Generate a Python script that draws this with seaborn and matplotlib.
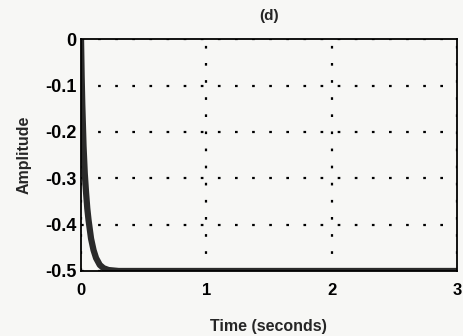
import matplotlib
matplotlib.use("Agg")
import matplotlib.pyplot as plt
import seaborn as sns
import pandas as pd

time_s = [0.0, 0.005, 0.01, 0.02, 0.03, 0.04, 0.05, 0.06, 0.08, 0.10, 0.12, 0.15, 0.18, 0.22, 0.3, 0.5, 1.0, 2.0, 3.0]
amplitude = [0.0, -0.08, -0.14, -0.23, -0.29, -0.33, -0.365, -0.39, -0.43, -0.455, -0.472, -0.487, -0.494, -0.498, -0.5, -0.5, -0.5, -0.5, -0.5]
x_ticks = [0, 1, 2, 3]
y_ticks = [0, -0.1, -0.2, -0.3, -0.4, -0.5]
y_tick_labels = ["0", "-0.1", "-0.2", "-0.3", "-0.4", "-0.5"]

sns.set_style("white")
plt.rcParams['font.family'] = ['Liberation Sans', 'DejaVu Sans']

df = pd.DataFrame({"Time": time_s, "Amplitude": amplitude})

fig = plt.figure(figsize=(4.64, 3.36), dpi=100, facecolor="#f7f7f5")
ax = fig.add_axes([0.1746, 0.1935, 0.810, 0.69])
ax.set_facecolor("#f7f7f5")
sns.lineplot(data=df, x="Time", y="Amplitude", ax=ax, color="#2a2a2a", linewidth=4.5)

ax.set_xlim(0, 3)
ax.set_ylim(-0.5, 0)
ax.set_xticks(x_ticks)
ax.set_xticklabels([str(t) for t in x_ticks])
ax.set_yticks(y_ticks)
ax.set_yticklabels(y_tick_labels)
ax.grid(True, linestyle=(0, (1.2, 6.5)), color="black", linewidth=1.6)
for s in ax.spines.values():
    s.set_color("black")
    s.set_linewidth(1.3)
ax.tick_params(axis="x", direction="in", length=3, labelsize=12, colors="black", pad=9)
ax.tick_params(axis="y", direction="in", length=3, labelsize=13, colors="black", pad=3)
for lbl in ax.get_xticklabels() + ax.get_yticklabels():
    lbl.set_fontweight("bold")
ax.set_xlabel("Time (seconds)", fontsize=11.5, fontweight="bold", labelpad=15)
ax.set_ylabel("Amplitude", fontsize=11.5, fontweight="bold", labelpad=10)
ax.set_title("(d)", fontsize=11, fontweight="bold", pad=14)

fig.savefig("out.png", dpi=100, facecolor=fig.get_facecolor())
